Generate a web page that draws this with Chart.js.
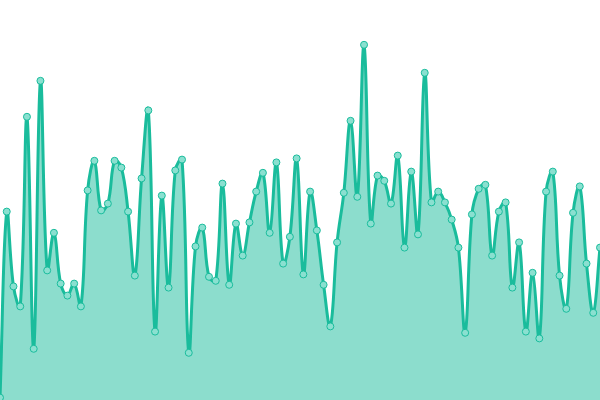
<!DOCTYPE html>
<html>
<head>
<meta charset="utf-8">
<script src="https://cdn.jsdelivr.net/npm/chart.js@4"></script>
<style>
    html, body { margin: 0; padding: 0; background: #fff; }
    #box { width: 600px; height: 400px; }
</style>
</head>
<body>
<div id="box"><canvas id="myChart"></canvas></div>
<script>
// values, scale 0..100
const values = [
    0.6, 47.1, 28.4, 23.4, 70.8, 12.8, 79.8, 32.4, 41.8, 29.1,
    26.1, 29.1, 23.4, 52.4, 59.8, 47.4, 49.1, 59.8, 58.1, 47.1,
    31.1, 55.4, 72.4, 17.1, 51.1, 28.1, 57.4, 60.1, 11.8, 38.4,
    43.1, 30.8, 29.8, 54.1, 28.8, 44.1, 36.1, 44.4, 52.1, 56.8,
    41.8, 59.4, 34.1, 40.8, 60.4, 31.4, 52.1, 42.4, 28.8, 18.4,
    39.4, 51.8, 69.8, 50.8, 88.8, 44.1, 56.1, 54.8, 49.1, 61.1,
    38.1, 57.1, 41.4, 81.8, 49.4, 52.1, 49.4, 45.1, 38.1, 16.8,
    46.4, 52.8, 53.8, 36.1, 47.1, 49.4, 28.1, 39.4, 17.1, 31.8,
    15.4, 52.1, 57.1, 31.1, 22.8, 46.8, 53.4, 34.1, 21.8, 38.1
];
const labels = values.map((v, i) => i + 1);

document.addEventListener('DOMContentLoaded', function() {
    const ctx = document.getElementById('myChart').getContext('2d');

    new Chart(ctx, {
        type: 'line',
        data: {
            labels: labels,
            datasets: [{
                data: values,
                borderColor: '#1abc9c',
                backgroundColor: 'rgba(26, 188, 156, 0.5)',
                pointBackgroundColor: '#8ae0d0',
                pointBorderColor: '#1abc9c',
                pointRadius: 3.5,
                pointBorderWidth: 1,
                borderWidth: 3,
                tension: 0.4,
                fill: true
            }]
        },
        options: {
            responsive: true,
            maintainAspectRatio: false,
            animation: false,
            layout: { padding: 0, autoPadding: false },
            scales: {
                x: { display: false },
                y: { display: false, min: 0, max: 100 }
            },
            plugins: {
                legend: { display: false },
                tooltip: { enabled: false }
            }
        }
    });
});
</script>
</body>
</html>
